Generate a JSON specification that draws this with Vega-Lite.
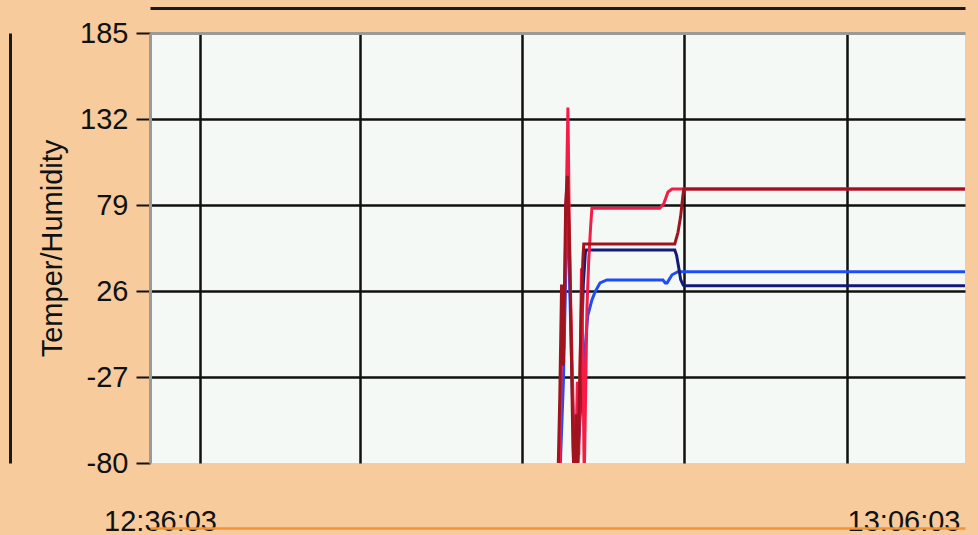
{
  "$schema": "https://vega.github.io/schema/vega-lite/v6.json",
  "width": 815,
  "height": 430,
  "autosize": {"type": "none"},
  "padding": {"left": 150, "top": 33, "right": 13, "bottom": 72},
  "background": "#F7CB9B",
  "config": {
    "view": {"fill": "#F4F9F5", "stroke": null},
    "font": "Liberation Sans",
    "axis": {"labelFont": "Liberation Sans", "titleFont": "Liberation Sans", "labelColor": "#111111", "titleColor": "#111111"}
  },
  "data": {
    "values": [
      {"series": "H1", "t": 905, "v": -90}, {"series": "H1", "t": 913, "v": -30}, {"series": "H1", "t": 920, "v": 60}, {"series": "H1", "t": 923, "v": 87}, {"series": "H1", "t": 926, "v": 40}, {"series": "H1", "t": 933, "v": -40}, {"series": "H1", "t": 940, "v": -85}, {"series": "H1", "t": 948, "v": -60}, {"series": "H1", "t": 955, "v": -30}, {"series": "H1", "t": 961, "v": -10}, {"series": "H1", "t": 965, "v": 5}, {"series": "H1", "t": 967, "v": 11}, {"series": "H1", "t": 976, "v": 20.5}, {"series": "H1", "t": 983, "v": 25.4}, {"series": "H1", "t": 994, "v": 31}, {"series": "H1", "t": 1009, "v": 32.8}, {"series": "H1", "t": 1133, "v": 32.8}, {"series": "H1", "t": 1138, "v": 31}, {"series": "H1", "t": 1142, "v": 31}, {"series": "H1", "t": 1153, "v": 36}, {"series": "H1", "t": 1166, "v": 37.9}, {"series": "H1", "t": 1800, "v": 37.9},
      {"series": "H2", "t": 943, "v": -90}, {"series": "H2", "t": 948, "v": -60}, {"series": "H2", "t": 953, "v": -5}, {"series": "H2", "t": 957, "v": 30}, {"series": "H2", "t": 962, "v": 51.3}, {"series": "H2", "t": 1159, "v": 51.3}, {"series": "H2", "t": 1163, "v": 48}, {"series": "H2", "t": 1168, "v": 40}, {"series": "H2", "t": 1172, "v": 33}, {"series": "H2", "t": 1177, "v": 30}, {"series": "H2", "t": 1179, "v": 29.3}, {"series": "H2", "t": 1800, "v": 29.3},
      {"series": "T1", "t": 903, "v": -90}, {"series": "T1", "t": 906, "v": -70}, {"series": "T1", "t": 910, "v": 20}, {"series": "T1", "t": 914, "v": -10}, {"series": "T1", "t": 918, "v": 60}, {"series": "T1", "t": 923, "v": 139}, {"series": "T1", "t": 926, "v": 70}, {"series": "T1", "t": 929, "v": 20}, {"series": "T1", "t": 932, "v": -15}, {"series": "T1", "t": 935, "v": -50}, {"series": "T1", "t": 938, "v": -90}, {"series": "T1", "t": 941, "v": -65}, {"series": "T1", "t": 944, "v": -30}, {"series": "T1", "t": 947, "v": -75}, {"series": "T1", "t": 950, "v": -20}, {"series": "T1", "t": 953, "v": 40}, {"series": "T1", "t": 956, "v": -10}, {"series": "T1", "t": 959, "v": -90}, {"series": "T1", "t": 962, "v": -40}, {"series": "T1", "t": 965, "v": 15}, {"series": "T1", "t": 969, "v": 45}, {"series": "T1", "t": 973, "v": 65}, {"series": "T1", "t": 976, "v": 77}, {"series": "T1", "t": 1126, "v": 77}, {"series": "T1", "t": 1135, "v": 80}, {"series": "T1", "t": 1144, "v": 87}, {"series": "T1", "t": 1153, "v": 88.9}, {"series": "T1", "t": 1800, "v": 88.9},
      {"series": "T2", "t": 901, "v": -90}, {"series": "T2", "t": 905, "v": -40}, {"series": "T2", "t": 909, "v": 30}, {"series": "T2", "t": 913, "v": -20}, {"series": "T2", "t": 918, "v": 80}, {"series": "T2", "t": 922, "v": 97}, {"series": "T2", "t": 926, "v": 60}, {"series": "T2", "t": 930, "v": 0}, {"series": "T2", "t": 934, "v": -70}, {"series": "T2", "t": 937, "v": -90}, {"series": "T2", "t": 941, "v": -50}, {"series": "T2", "t": 945, "v": -80}, {"series": "T2", "t": 949, "v": -30}, {"series": "T2", "t": 953, "v": 20}, {"series": "T2", "t": 956, "v": 45}, {"series": "T2", "t": 958, "v": 55}, {"series": "T2", "t": 1159, "v": 55}, {"series": "T2", "t": 1166, "v": 62}, {"series": "T2", "t": 1172, "v": 72}, {"series": "T2", "t": 1177, "v": 85}, {"series": "T2", "t": 1179, "v": 88.9}, {"series": "T2", "t": 1800, "v": 88.9}
    ]
  },
  "resolve": {"axis": {"x": "independent", "y": "independent"}},
  "layer": [
    {
      "transform": [{"filter": "datum.series === 'H1'"}],
      "mark": {"type": "line", "color": "#1E4DF5", "strokeWidth": 3, "clip": true},
      "encoding": {
        "x": {"field": "t", "type": "quantitative", "scale": {"domain": [0, 1800], "nice": false, "zero": false},
          "axis": {"orient": "bottom", "values": [110, 464, 822, 1179, 1539], "grid": true, "gridColor": "#111111", "gridWidth": 2.5, "ticks": false, "labels": false, "domain": false, "title": null}},
        "y": {"field": "v", "type": "quantitative", "scale": {"domain": [-80, 185], "nice": false, "zero": false},
          "axis": {"orient": "left", "offset": 140, "domainColor": "#1a1a1a", "domainWidth": 3, "ticks": false, "labels": false, "grid": false, "title": null}}
      }
    },
    {
      "transform": [{"filter": "datum.series === 'H2'"}],
      "mark": {"type": "line", "color": "#141A78", "strokeWidth": 3, "clip": true},
      "encoding": {
        "x": {"field": "t", "type": "quantitative", "scale": {"domain": [0, 1800], "nice": false, "zero": false},
          "axis": {"orient": "bottom", "offset": 65, "values": [0, 1800], "grid": false, "ticks": false, "domainColor": "#F39434", "domainWidth": 2.5,
            "labelExpr": "datum.value == 0 ? '12:36:03' : '13:06:03'", "labelFontSize": 29, "labelBaseline": "alphabetic", "labelPadding": 2,
            "labelFlush": false, "labelOverlap": false,
            "labelAlign": {"condition": {"test": "datum.value == 0", "value": "center"}, "value": "right"},
            "labelOffset": {"condition": {"test": "datum.value == 0", "value": 10}, "value": -5},
            "title": null}},
        "y": {"field": "v", "type": "quantitative", "scale": {"domain": [-80, 185], "nice": false, "zero": false},
          "axis": {"orient": "left", "values": [185, 132, 79, 26, -27, -80], "labelExpr": "'' + datum.value", "title": "Temper/Humidity", "titleFontSize": 29, "titleFontWeight": "normal", "titlePadding": 12,
            "labelFontSize": 29, "labelPadding": 8, "labelOverlap": false, "labelFlush": false, "tickSize": 14, "tickWidth": 2, "tickColor": "#111111",
            "domainColor": "#9A9A9A", "domainWidth": 3, "grid": true, "gridColor": "#111111", "gridWidth": 2.5,
            "gridOpacity": {"condition": {"test": "datum.value == 185 || datum.value == -80", "value": 0}, "value": 1}}}
      }
    },
    {
      "transform": [{"filter": "datum.series === 'T1'"}],
      "mark": {"type": "line", "color": "#F51D48", "strokeWidth": 3, "clip": true},
      "encoding": {
        "x": {"field": "t", "type": "quantitative", "scale": {"domain": [0, 1800], "nice": false, "zero": false},
          "axis": {"orient": "top", "offset": 0, "domainColor": "#9A9A9A", "domainWidth": 3, "ticks": false, "labels": false, "grid": false, "title": null}},
        "y": {"field": "v", "type": "quantitative", "scale": {"domain": [-80, 185], "nice": false, "zero": false}, "axis": null}
      }
    },
    {
      "transform": [{"filter": "datum.series === 'T2'"}],
      "mark": {"type": "line", "color": "#A0141E", "strokeWidth": 3, "clip": true},
      "encoding": {
        "x": {"field": "t", "type": "quantitative", "scale": {"domain": [0, 1800], "nice": false, "zero": false},
          "axis": {"orient": "top", "offset": 25, "domainColor": "#1a1a1a", "domainWidth": 3, "ticks": false, "labels": false, "grid": false, "title": null}},
        "y": {"field": "v", "type": "quantitative", "scale": {"domain": [-80, 185], "nice": false, "zero": false}, "axis": null}
      }
    }
  ]
}
